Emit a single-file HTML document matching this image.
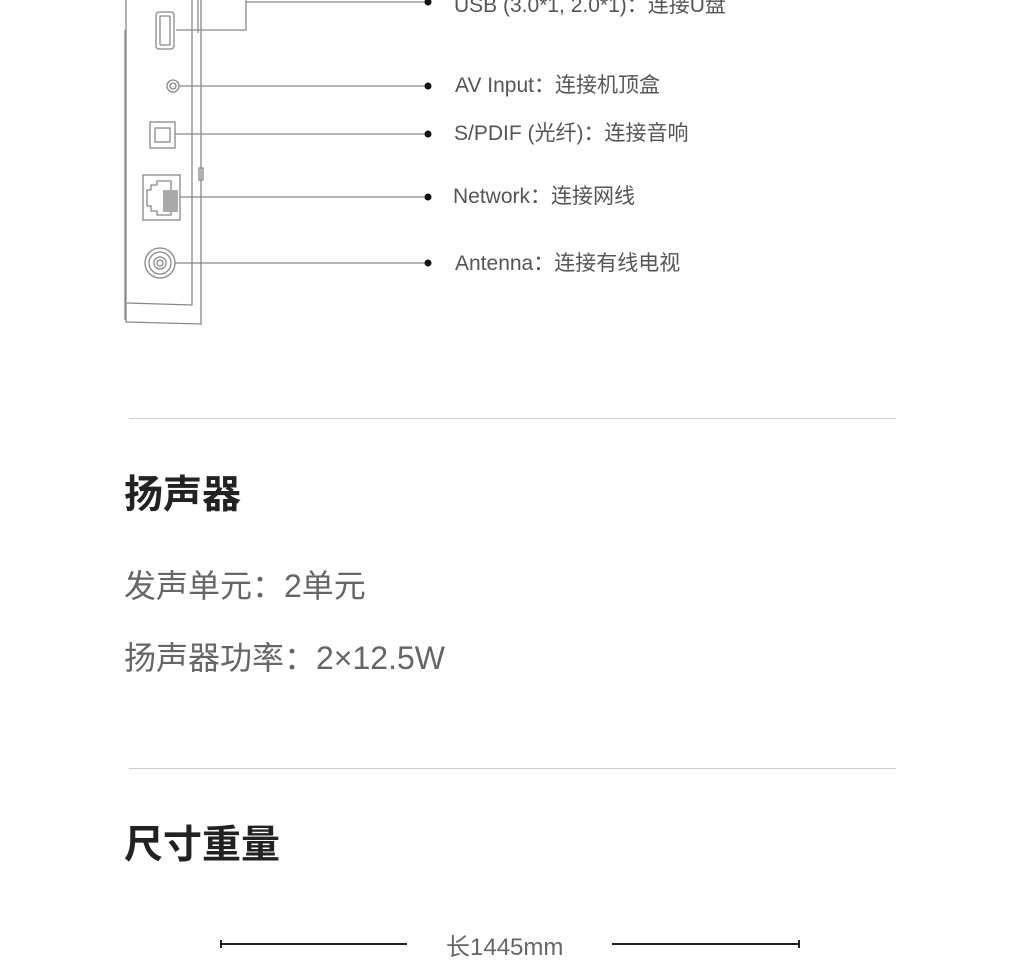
<!DOCTYPE html>
<html><head><meta charset="utf-8"><style>
body{margin:0;width:1024px;height:948px;background:#fff;position:relative;overflow:hidden;font-family:"Liberation Sans","Noto Sans CJK SC",sans-serif}
.t{position:absolute;white-space:nowrap}
.lab{font-size:21px;color:#555;line-height:24px}
.h{font-size:39px;font-weight:bold;color:#222;left:124px;line-height:44px}
.p{font-size:32px;color:#666;left:124px;line-height:40px}
.hr{position:absolute;left:129px;width:767px;height:1px;background:#ccc}
</style></head><body>
<svg width="1024" height="948" style="position:absolute;left:0;top:0" fill="none" stroke="#888" stroke-width="1.3">
<path d="M126 0 V322 L201 324 V0"/>
<path d="M125 30 V320"/>
<path d="M192 0 V305 L127 303"/>
<path d="M198 0 V33" />
<rect x="199" y="168" width="4" height="12"/>
<rect x="156" y="12" width="18" height="37" rx="3"/>
<rect x="160" y="16" width="10" height="29" rx="1"/>
<path d="M176 30 H246 V0"/>
<circle cx="173" cy="86" r="6"/><circle cx="173" cy="86" r="3"/>
<path d="M179 86 H428"/>
<rect x="150" y="122" width="25" height="26"/>
<rect x="155" y="128" width="15" height="14"/>
<path d="M175 134 H428"/>
<rect x="143" y="175" width="37" height="45"/>
<path d="M147 190 h4 v-5 h6 v-4 h14 v34 h-14 v-4 h-6 v-5 h-4z"/>
<rect x="163" y="190" width="15" height="22" fill="#aaa" stroke="none"/>
<path d="M180 197 H428"/>
<circle cx="160" cy="263" r="15"/><circle cx="160" cy="263" r="11"/><circle cx="160" cy="263" r="6"/><circle cx="160" cy="263" r="3"/>
<path d="M175 263 H428"/>
<path d="M246 2 H428"/>
<g fill="#111" stroke="none">
<circle cx="428" cy="2" r="3.5"/><circle cx="428" cy="86" r="3.5"/><circle cx="428" cy="134" r="3.5"/><circle cx="428" cy="197" r="3.5"/><circle cx="428" cy="263" r="3.5"/>
</g>
<path d="M221 940 V948 M221 944 H407 M612 944 H799 M799 940 V948" stroke="#222" stroke-width="2"/>
</svg>
<div class="t lab" style="left:454px;top:-6px">USB (3.0*1, 2.0*1)：连接U盘</div>
<div class="t lab" style="left:455px;top:74px">AV Input：连接机顶盒</div>
<div class="t lab" style="left:454px;top:122px">S/PDIF (光纤)：连接音响</div>
<div class="t lab" style="left:453px;top:185px">Network：连接网线</div>
<div class="t lab" style="left:455px;top:252px">Antenna：连接有线电视</div>
<div class="hr" style="top:418px"></div>
<div class="t h" style="top:474px">扬声器</div>
<div class="t p" style="top:566px">发声单元：2单元</div>
<div class="t p" style="top:638px">扬声器功率：2×12.5W</div>
<div class="hr" style="top:768px"></div>
<div class="t h" style="top:824px">尺寸重量</div>
<div class="t" style="left:446px;top:927px;font-size:24px;color:#666">长1445mm</div>
</body></html>
